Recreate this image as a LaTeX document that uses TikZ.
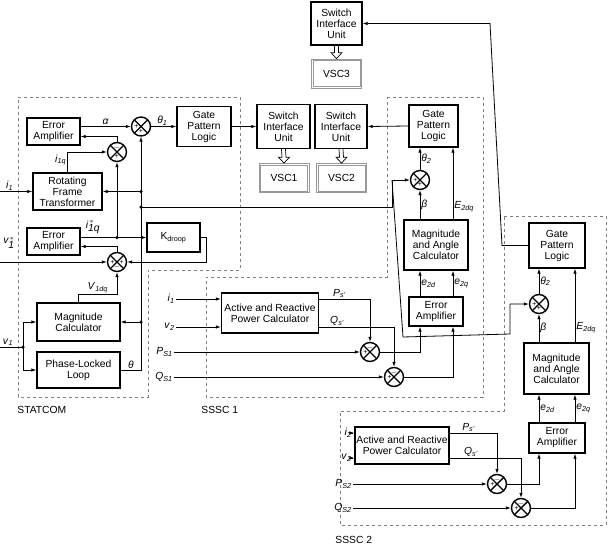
\documentclass[tikz,border=0pt]{standalone}
\usepackage{fontspec}
\setmainfont{Liberation Sans}
\usetikzlibrary{arrows.meta,calc}
\newcommand\sv[2]{\textit{#1}\textsubscript{\textit{#2}}}
\newcommand\bx[5]{\node[blk,minimum width=#4,minimum height=#5] (#1) at (#2) {#3};}
\newcommand\sumj[6]{\node[sumn] (#1) at (#2) {};
  \node[sg] at ($(#1)+(-4.6,0)$) {#3};\node[sg] at ($(#1)+(0,-4.6)$) {#4};
  \node[sg] at ($(#1)+(4.6,0)$) {#5};\node[sg] at ($(#1)+(0,4.6)$) {#6};}
\newcommand\vscbox[3]{\node[draw=gray!80,line width=0.7pt,minimum width=50,minimum height=29] (#1) at (#2) {#3};
  \draw[gray!80,line width=0.7pt] ($(#1.north west)+(1.8,1.8)$) rectangle ($(#1.south east)+(-1.8,-1.8)$);}
\newcommand\dbar[2]{\draw[line width=0.7pt] ($(#1.south)+(-2,0)$) -- ($(#2.north)+(-2,-6)$) -- ($(#2.north)+(-5.5,-6)$) -- (#2.north) -- ($(#2.north)+(5.5,-6)$) -- ($(#2.north)+(2,-6)$) -- ($(#1.south)+(2,0)$);}
\begin{document}
\begin{tikzpicture}[x=1pt,y=-1pt,font=\fontsize{10.3}{11}\selectfont,
  >={Latex[length=5pt,width=3.5pt]}, line width=0.8pt,
  blk/.style={draw,line width=1.4pt,align=center,inner sep=1pt},
  sumn/.style={circle,draw,line width=1.4pt,minimum size=19,inner sep=0,
    path picture={\draw[line width=1.4pt] (path picture bounding box.north west)--(path picture bounding box.south east)
     (path picture bounding box.north east)--(path picture bounding box.south west);}},
  sg/.style={font=\fontsize{7}{7}\selectfont,inner sep=0},
  reg/.style={draw=gray,dashed,line width=0.8pt},
  dot/.style={circle,fill,inner sep=0,minimum size=3.5},
  lb/.style={inner sep=1pt}]
\useasboundingbox (0,0) rectangle (608,546);
% regions
\draw[reg] (18,97)--(240,97)--(240,270)--(148,270)--(148,397)--(18,397)--cycle;
\draw[reg] (387,97)--(483,97)--(483,397)--(206,397)--(206,277)--(387,277)--cycle;
\draw[reg] (504,216)--(606,216)--(606,525)--(340,525)--(340,411)--(504,411)--cycle;
\node[lb,anchor=west] at (16,410) {STATCOM};
\node[lb,anchor=west] at (200,410) {SSSC 1};
\node[lb,anchor=west] at (334,540) {SSSC 2};
% STATCOM
\bx{EA1}{53.5,131.5}{Error\\Amplifier}{53}{27}
\sumj{S1}{141,126.5}{+}{}{}{+}
\bx{G1}{204,126.5}{Gate\\Pattern\\Logic}{54}{40}
\sumj{S2}{117,152}{}{$-$}{}{+}
\bx{RF}{67.5,191.5}{Rotating\\Frame\\Transformer}{69}{37}
\bx{EA2}{53.5,241.5}{Error\\Amplifier}{53}{27}
\bx{KD}{173.5,237.5}{K\textsubscript{droop}}{53}{29}
\sumj{S3}{117,262}{+}{}{+}{$-$}
\bx{MC}{78.5,322}{Magnitude\\Calculator}{83}{38}
\bx{PLL}{78.5,370}{Phase-Locked\\Loop}{83}{36}
\coordinate (d1) at (141,191.5); \coordinate (d2) at (141,207); \coordinate (d3) at (141,322);
\coordinate (d4) at (117,237.5); \coordinate (vd) at (23,347);
\coordinate (t1) at (392,207); \coordinate (t2) at (392,180);
\foreach \p in {d1,d2,d3,d4,vd} \node[dot] at (\p) {};
\draw[->] ($(EA1.east)+(0,-5)$) -- node[above,lb]{\textit{α}} (S1.west);
\draw[->] (S2.north) |- ($(EA1.east)+(0,5)$);
\draw[->] (RF.north) |- node[pos=0.3,left,lb]{\sv{i}{1q}} (S2.west);
\draw[->] (PLL.east) -- node[above,lb]{\textit{θ}} (PLL.east -| S1) -- (S1.south);
\draw[->] (d1) -- (RF.east);
\draw[->] (d3) -- (MC.east);
\draw[->] ($(EA2.east)+(0,-4)$) -- (KD.west);
\node[lb] at (93,227) {$\textit{i}^{\,*}_{\textit{1q}}$};
\draw[->] (d4) -- (S2.south);
\draw[->] (KD.east) -- ++(6,0) |- (S3.east);
\draw[->] (S3.north) |- ($(EA2.east)+(0,5)$);
\coordinate (inv) at (0,262); \draw[->] (inv) -- (S3.west);
\node[lb] at (9,243) {$\textit{v}^{\,*}_{\textit{1}}$};
\draw[->] (MC.north) |- node[pos=0.75,above,lb]{\sv{V}{1dq}} ($(S3.south)+(0,22)$) -- (S3.south);
\coordinate (ini) at (0,191.5); \draw[->] (ini) -- node[pos=0.3,above,lb]{\sv{i}{1}} (RF.west);
\coordinate (inv1) at (0,347); \draw (inv1) -- node[pos=0.35,above,lb]{\sv{v}{1}} (vd);
\draw[->] (vd) |- (MC.west); \draw[->] (vd) |- (PLL.west);
\draw[->] (S1.east) -- node[above left,lb,pos=0.7]{\sv{θ}{1}} (G1.west);
% switch units
\bx{SIU1}{283.5,126.5}{Switch\\Interface\\Unit}{53}{44}
\bx{SIU2}{341,126.5}{Switch\\Interface\\Unit}{52}{44}
\bx{SIU3}{336.5,23.5}{Switch\\Interface\\Unit}{51}{43}
\vscbox{V1}{284,178}{VSC1}
\vscbox{V2}{341.5,178}{VSC2}
\vscbox{V3}{336.5,73.5}{VSC3}
\dbar{SIU1}{V1}
\dbar{SIU2}{V2}
\dbar{SIU3}{V3}
\draw[->] (G1.east) -- (SIU1.west);
% SSSC1
\bx{G2}{433.5,126}{Gate\\Pattern\\Logic}{49}{42}
\sumj{S4}{420,180}{+}{}{}{+}
\bx{MA1}{436,245}{Magnitude\\and Angle\\Calculator}{64}{50}
\bx{EA3}{436,311.5}{Error\\Amplifier}{54}{29}
\draw[->] (G2.west) -- (SIU2.east);
\draw[->] (S4.north) -- (S4.north |- G2.south) node[pos=0.5,right,lb]{\sv{θ}{2}};
\draw[->] (S4 |- MA1.north) -- node[right,lb]{\textit{β}} (S4.south);
\draw[->] ($(MA1.north)+(17,0)$) -- node[pos=0.18,right,lb]{\sv{E}{2dq}} ($(G2.south)+(19.5,0)$);
\draw[->] ($(EA3.north)+(-16,0)$) -- node[right,lb]{\sv{e}{2d}} ($(MA1.south)+(-16,0)$);
\draw[->] ($(EA3.north)+(17,0)$) -- node[right,lb]{\sv{e}{2q}} ($(MA1.south)+(17,0)$);
\bx{AP1}{270,313}{Active and Reactive\\Power Calculator}{97}{40}
\sumj{Sa}{370,352}{+}{$-$}{}{}
\sumj{Sb}{394,377}{+}{$-$}{}{}
\draw[->] ($(AP1.east)+(0,-14)$) -| node[pos=0.2,above,lb]{\sv{P}{s'}} (Sa.north);
\draw[->] ($(AP1.east)+(0,14)$) -| node[pos=0.12,above,lb]{\sv{Q}{s'}} (Sb.north);
\draw[->] (Sa.east) -| ($(EA3.south)+(-16,0)$);
\draw[->] (Sb.east) -| ($(EA3.south)+(17,0)$);
\coordinate (a1) at (176,299); \coordinate (a2) at (176,327);
\coordinate (a3) at (174,352); \coordinate (a4) at (174,377);
\draw[->] (a1) -- ($(AP1.west)+(0,-14)$); \draw[->] (a2) -- ($(AP1.west)+(0,14)$);
\draw[->] (a3) -- (Sa.west); \draw[->] (a4) -- (Sb.west);
\node[lb,anchor=east] at (a1) {\sv{i}{1}}; \node[lb,anchor=east] at (a2) {\sv{v}{2}};
\node[lb,anchor=east] at (a3) {\sv{P}{S1}}; \node[lb,anchor=east] at (a4) {\sv{Q}{S1}};
\draw (d2) -- (t1) -- (t2);
\draw[->] (t2) -- (S4.west);
% SSSC2
\bx{G3}{557,245.5}{Gate\\Pattern\\Logic}{56}{45}
\sumj{S5}{539,304}{+}{}{}{+}
\bx{MA2}{556.5,368.5}{Magnitude\\and Angle\\Calculator}{65}{51}
\bx{EA4}{557,438}{Error\\Amplifier}{56}{30}
\draw[->] (t2) -- (403,337) -- (510,334) |- (S5.west);
\draw[->] (G3.west) -- (502,245.5) -- (490,23.5) -- (SIU3.east);
\draw[->] (S5.north) -- (S5.north |- G3.south) node[pos=0.5,right,lb]{\sv{θ}{2}};
\draw[->] (S5 |- MA2.north) -- node[right,lb]{\textit{β}} (S5.south);
\draw[->] ($(MA2.north)+(18.5,0)$) -- node[pos=0.2,right,lb]{\sv{E}{2dq}} ($(G3.south)+(18,0)$);
\draw[->] ($(EA4.north)+(-18,0)$) -- node[right,lb]{\sv{e}{2d}} ($(MA2.south)+(-17.5,0)$);
\draw[->] ($(EA4.north)+(18,0)$) -- node[right,lb]{\sv{e}{2q}} ($(MA2.south)+(18.5,0)$);
\bx{AP2}{402,445.5}{Active and Reactive\\Power Calculator}{94}{37}
\sumj{Sc}{497,484}{+}{$-$}{}{}
\sumj{Sd}{521,508}{+}{$-$}{}{}
\draw[->] ($(AP2.east)+(0,-12.5)$) -| node[pos=0.2,above,lb]{\sv{P}{s'}} (Sc.north);
\draw[->] ($(AP2.east)+(0,12.5)$) -| node[pos=0.15,above,lb]{\sv{Q}{s'}} (Sd.north);
\draw[->] (Sc.east) -| ($(EA4.south)+(-18,0)$);
\draw[->] (Sd.east) -| ($(EA4.south)+(18,0)$);
\coordinate (b1) at (353,433); \coordinate (b2) at (353,458);
\coordinate (b3) at (353,484); \coordinate (b4) at (353,508);
\draw[->] (b1) -- ($(AP2.west)+(0,-12.5)$); \draw[->] (b2) -- ($(AP2.west)+(0,12.5)$);
\draw[->] (b3) -- (Sc.west); \draw[->] (b4) -- (Sd.west);
\node[lb,anchor=east] at (b1) {\sv{i}{2}}; \node[lb,anchor=east] at (b2) {\sv{v}{2}};
\node[lb,anchor=east] at (b3) {\sv{P}{S2}}; \node[lb,anchor=east] at (b4) {\sv{Q}{S2}};
\end{tikzpicture}
\end{document}
